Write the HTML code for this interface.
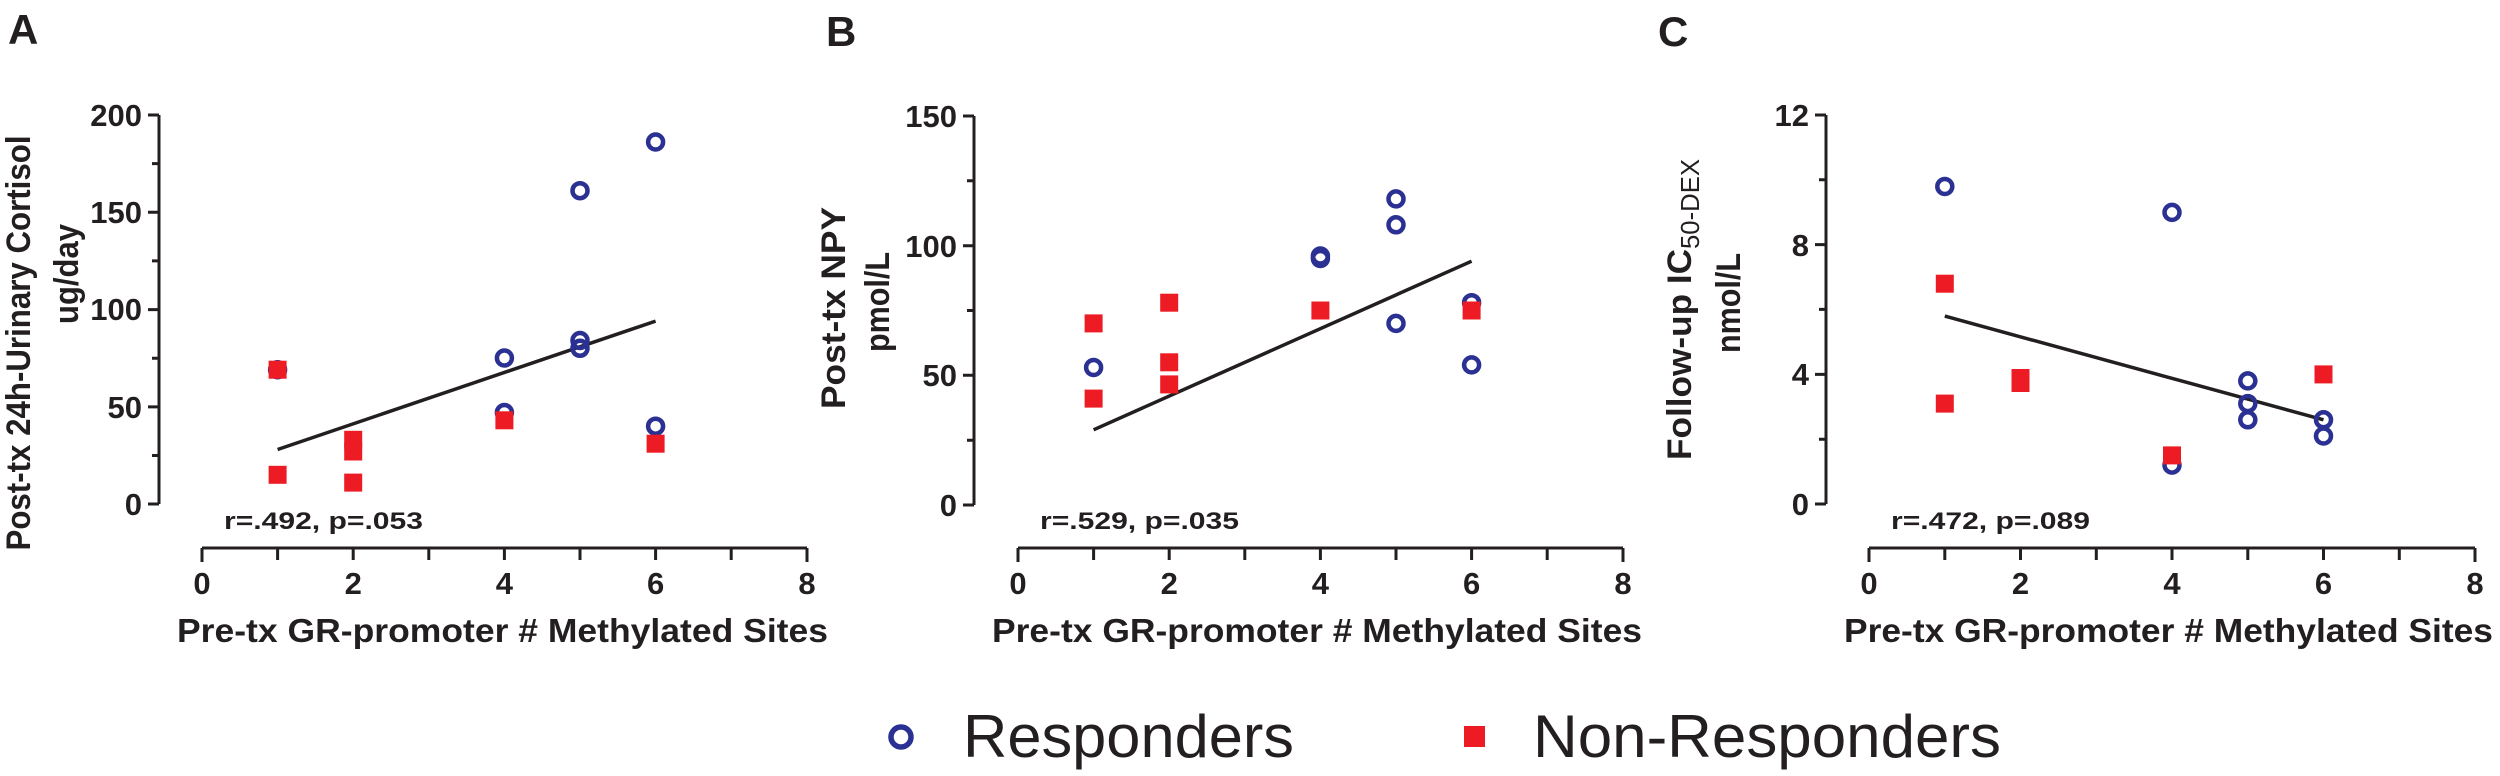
<!DOCTYPE html>
<html><head><meta charset="utf-8"><style>
html,body{margin:0;padding:0;background:#fff;}
svg{display:block;}
text{font-family:"Liberation Sans Narrow","Liberation Sans",sans-serif;font-weight:bold;fill:#231f20;}
.t{font-size:31px;}
.lg{font-weight:normal;font-size:60px;}
</style></head><body>
<svg width="2500" height="776" viewBox="0 0 2500 776" xmlns="http://www.w3.org/2000/svg">
<defs>
<g id="c"><circle r="7.5" fill="none" stroke="#2b3192" stroke-width="4.5"/></g>
<g id="s"><rect x="-9" y="-9" width="18" height="18" fill="#ed1c24"/></g>
</defs>
<g stroke="#231f20" stroke-width="3" fill="none">
<path d="M159,115 V504 M148,115H159 M148,212.3H159 M148,309.6H159 M148,406.9H159 M148,504H159 M152,163.6H159 M152,260.9H159 M152,358.2H159 M152,455.5H159"/>
<path d="M202,548 H807 M202,548V562 M277.6,548V560 M353.2,548V560 M428.8,548V560 M504.4,548V560 M580,548V560 M655.6,548V560 M731.2,548V560 M807,548V562"/>
<path d="M974,116 V505 M963,116H974 M963,245.7H974 M963,375.3H974 M963,505H974 M967,180.8H974 M967,310.5H974 M967,440.2H974"/>
<path d="M1018,548 H1623 M1018,548V562 M1093.6,548V560 M1169.2,548V560 M1244.8,548V560 M1320.4,548V560 M1396,548V560 M1471.6,548V560 M1547.2,548V560 M1623,548V562"/>
<path d="M1826,115 V504 M1815,115H1826 M1815,244.6H1826 M1815,374.4H1826 M1815,504H1826 M1819,179.8H1826 M1819,309.4H1826 M1819,439.2H1826"/>
<path d="M1869,548 H2475 M1869,548V562 M1944.8,548V560 M2020.5,548V560 M2096.3,548V560 M2172,548V560 M2247.8,548V560 M2323.5,548V560 M2399.3,548V560 M2475,548V562"/>
<line x1="277.6" y1="449.5" x2="655.6" y2="321.1" stroke-width="3.5"/>
<line x1="1093.6" y1="429.8" x2="1471.6" y2="261.2" stroke-width="3.5"/>
<line x1="1944.8" y1="316.1" x2="2323.5" y2="419.8" stroke-width="3.5"/>
</g>

<g class="t" text-anchor="end">
<text x="142" y="126">200</text><text x="142" y="223">150</text><text x="142" y="320">100</text><text x="142" y="418">50</text><text x="142" y="515">0</text>
<text x="957" y="127">150</text><text x="957" y="257">100</text><text x="957" y="386">50</text><text x="957" y="516">0</text>
<text x="1809" y="126">12</text><text x="1809" y="256">8</text><text x="1809" y="385">4</text><text x="1809" y="515">0</text>
</g>
<g class="t" text-anchor="middle">
<text x="202" y="594">0</text><text x="353.2" y="594">2</text><text x="504.4" y="594">4</text><text x="655.6" y="594">6</text><text x="807" y="594">8</text>
<text x="1018" y="594">0</text><text x="1169.2" y="594">2</text><text x="1320.4" y="594">4</text><text x="1471.6" y="594">6</text><text x="1623" y="594">8</text>
<text x="1869" y="594">0</text><text x="2020.5" y="594">2</text><text x="2172" y="594">4</text><text x="2323.5" y="594">6</text><text x="2475" y="594">8</text>
</g>

<g style="font-size:33px">
<text x="177" y="642" textLength="651" lengthAdjust="spacingAndGlyphs">Pre-tx GR-promoter # Methylated Sites</text>
<text x="992" y="642" textLength="650" lengthAdjust="spacingAndGlyphs">Pre-tx GR-promoter # Methylated Sites</text>
<text x="1844" y="642" textLength="649" lengthAdjust="spacingAndGlyphs">Pre-tx GR-promoter # Methylated Sites</text>
</g>
<g style="font-size:24px">
<text x="224" y="529" textLength="199" lengthAdjust="spacingAndGlyphs">r=.492, p=.053</text>
<text x="1040" y="529" textLength="199" lengthAdjust="spacingAndGlyphs">r=.529, p=.035</text>
<text x="1891" y="529" textLength="199" lengthAdjust="spacingAndGlyphs">r=.472, p=.089</text>
</g>

<g style="font-family:'Liberation Sans',sans-serif;font-size:34px" text-anchor="middle">
<text transform="translate(30,343) rotate(-90)" textLength="415" lengthAdjust="spacingAndGlyphs">Post-tx 24h-Urinary Cortisol</text>
<text transform="translate(78,274) rotate(-90)" textLength="100" lengthAdjust="spacingAndGlyphs">ug/day</text>
<text transform="translate(845,308) rotate(-90)" textLength="202" lengthAdjust="spacingAndGlyphs">Post-tx NPY</text>
<text transform="translate(889,302) rotate(-90)" textLength="100" lengthAdjust="spacingAndGlyphs">pmol/L</text>
<text transform="translate(1740,303) rotate(-90)" textLength="100" lengthAdjust="spacingAndGlyphs">nmol/L</text>
</g>
<text transform="translate(1691,460) rotate(-90)" style="font-family:'Liberation Sans',sans-serif;font-size:34px"><tspan textLength="211" lengthAdjust="spacingAndGlyphs">Follow-up IC</tspan><tspan dy="8" style="font-weight:normal;font-size:26px" textLength="90" lengthAdjust="spacingAndGlyphs">50-DEX</tspan></text>

<g style="font-family:'Liberation Sans',sans-serif;font-size:42px">
<text x="8" y="44">A</text><text x="826" y="46">B</text><text x="1658" y="46">C</text>
</g>

<use href="#c" x="277.6" y="369.7"/><use href="#s" x="277.6" y="369.7"/><use href="#s" x="277.6" y="474.8"/>
<use href="#s" x="353.2" y="439.8"/><use href="#s" x="353.2" y="451.5"/><use href="#s" x="353.2" y="482.6"/>
<use href="#c" x="504.4" y="358"/><use href="#c" x="504.4" y="412.5"/><use href="#s" x="504.4" y="420.3"/>
<use href="#c" x="580" y="190.7"/><use href="#c" x="580" y="340.5"/><use href="#c" x="580" y="348.3"/>
<use href="#c" x="655.6" y="142"/><use href="#c" x="655.6" y="426.2"/><use href="#s" x="655.6" y="443.7"/>
<use href="#s" x="1093.6" y="323.4"/><use href="#s" x="1093.6" y="398.6"/><use href="#c" x="1093.6" y="367.5"/>
<use href="#s" x="1169.2" y="302.7"/><use href="#s" x="1169.2" y="362.3"/><use href="#s" x="1169.2" y="384.4"/>
<use href="#c" x="1320.4" y="256"/><use href="#c" x="1320.4" y="258.5"/><use href="#s" x="1320.4" y="310.5"/>
<use href="#c" x="1396" y="198.9"/><use href="#c" x="1396" y="224.8"/><use href="#c" x="1396" y="323.4"/>
<use href="#c" x="1471.6" y="302.7"/><use href="#s" x="1471.6" y="310.5"/><use href="#c" x="1471.6" y="364.9"/>
<use href="#c" x="1944.8" y="186.5"/><use href="#s" x="1944.8" y="283.7"/><use href="#s" x="1944.8" y="403.6"/>
<use href="#s" x="2020.5" y="378"/><use href="#s" x="2020.5" y="383"/>
<use href="#c" x="2172" y="212.4"/><use href="#c" x="2172" y="465.1"/><use href="#s" x="2172" y="455.4"/>
<use href="#c" x="2247.8" y="380.9"/><use href="#c" x="2247.8" y="403.6"/><use href="#c" x="2247.8" y="419.8"/>
<use href="#s" x="2323.5" y="374.4"/><use href="#c" x="2323.5" y="419.8"/><use href="#c" x="2323.5" y="436"/>

<circle cx="901" cy="737" r="10" fill="none" stroke="#2b3192" stroke-width="5.5"/>
<text class="lg" x="963" y="757" textLength="331" lengthAdjust="spacingAndGlyphs">Responders</text>
<rect x="1464" y="726" width="21" height="21" fill="#ed1c24"/>
<text class="lg" x="1533" y="757" textLength="468" lengthAdjust="spacingAndGlyphs">Non-Responders</text>
</svg>
</body></html>
